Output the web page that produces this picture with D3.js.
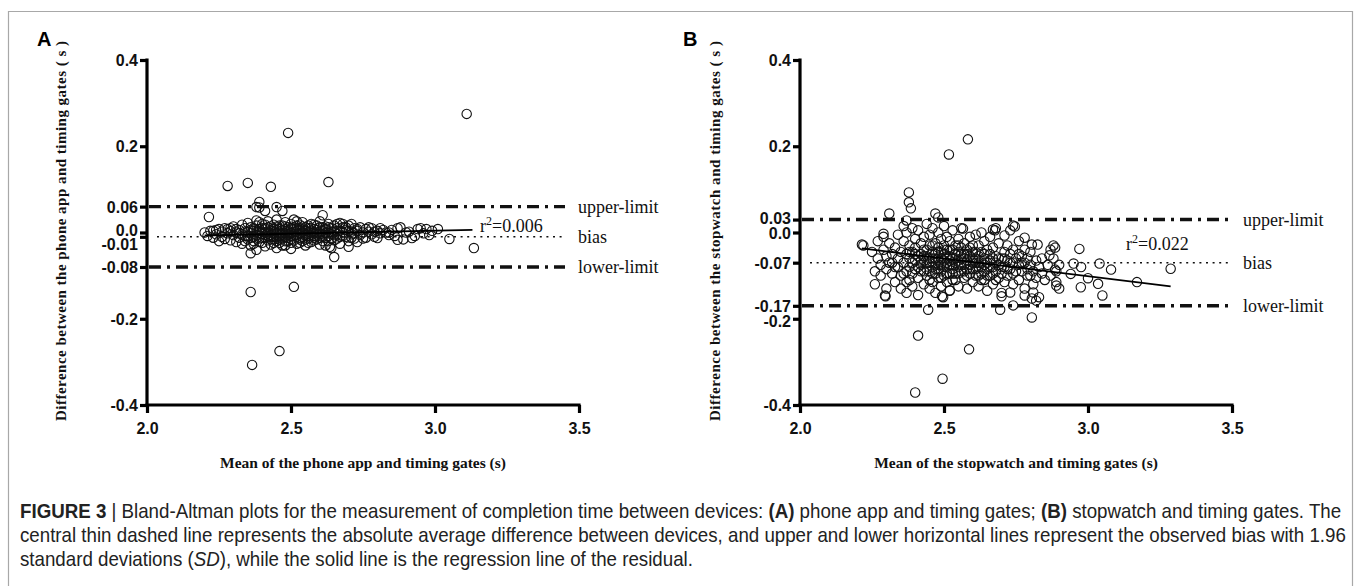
<!DOCTYPE html>
<html>
<head>
<meta charset="utf-8">
<script src="https://cdn.jsdelivr.net/npm/d3@7"></script>
<style>
  body { margin: 0; background: #fff; }
  svg { display: block; }
  .axis .tick text { font-family: 'Liberation Sans', Arial, sans-serif; font-weight: bold; fill: #111; }
  .serif { font-family: 'Liberation Serif', 'Times New Roman', serif; fill: #111; }
</style>
</head>
<body>
<svg id="chart"></svg>
<script>
// ---- data ----
const xTicks = [2.0, 2.5, 3.0, 3.5]
const limitNames = ['upper-limit', 'bias', 'lower-limit']

// A: phone app vs timing gates
const phoneYTicks = [0.4, 0.2, 0.06, 0.0, -0.01, -0.08, -0.2, -0.4]
const phoneLimits = [0.06, -0.01, -0.08]
const phoneFit = [[2.20, -0.007], [3.13, 0.006]]
const phoneR2 = '0.006'
const phonePoints = [
	[2.49,0.231],[3.11,0.275],[2.28,0.108],[2.35,0.115],[2.43,0.106],[2.63,0.117],[2.39,0.071],[2.38,0.059],
	[2.39,0.058],[2.41,0.050],[2.45,0.059],[2.47,0.050],[2.215,0.036],[2.61,0.040],[3.135,-0.036],[3.05,-0.015],
	[2.36,-0.138],[2.51,-0.126],[2.46,-0.275],[2.365,-0.307],[2.36,-0.048],[2.65,-0.057],[2.635,-0.033],[2.70,-0.033],
	[2.87,0.010],[2.84,0.000],[2.80,-0.013],[2.87,-0.017],[2.92,-0.013],[2.94,0.008],[2.97,0.008],[2.98,-0.006],
	[3.01,0.008],[2.90,0.000],
	[2.20,0.000],[2.21,-0.008],[2.22,0.004],[2.23,-0.012],[2.24,-0.004],[2.24,0.006],[2.25,-0.020],[2.26,0.002],
	[2.26,-0.010],[2.27,0.010],[2.27,-0.015],[2.28,-0.002],[2.28,0.008],[2.29,-0.018],[2.29,0.003],[2.30,-0.006],
	[2.30,0.014],[2.31,-0.022],[2.31,0.000],[2.32,0.006],[2.32,-0.012],[2.33,0.018],[2.33,-0.004],[2.33,-0.026],
	[2.34,0.010],[2.34,-0.008],[2.35,0.002],[2.35,-0.016],[2.35,0.022],[2.36,-0.002],[2.36,-0.030],[2.36,0.012],
	[2.37,-0.010],[2.37,0.004],[2.37,-0.020],[2.38,0.016],[2.38,-0.006],[2.38,0.028],[2.38,-0.040],[2.39,0.000],
	[2.39,-0.014],[2.39,0.008],[2.40,-0.024],[2.40,0.020],[2.40,-0.004],[2.41,0.010],[2.41,-0.012],[2.41,-0.032],
	[2.42,0.002],[2.42,0.026],[2.42,-0.018],[2.43,-0.006],[2.43,0.014],[2.43,-0.028],[2.44,0.004],[2.44,-0.010],
	[2.44,0.018],[2.45,-0.020],[2.45,0.000],[2.45,0.030],[2.45,-0.036],[2.46,0.008],[2.46,-0.008],[2.46,-0.024],
	[2.47,0.016],[2.47,-0.002],[2.47,-0.014],[2.48,0.024],[2.48,0.004],[2.48,-0.030],[2.48,-0.010],[2.49,0.012],
	[2.49,-0.004],[2.49,-0.020],[2.50,0.020],[2.50,0.000],[2.50,-0.016],[2.50,-0.038],[2.51,0.008],[2.51,-0.008],
	[2.51,0.030],[2.52,-0.026],[2.52,0.002],[2.52,0.016],[2.53,-0.012],[2.53,0.006],[2.53,-0.002],[2.54,0.014],
	[2.54,-0.020],[2.54,0.024],[2.55,-0.006],[2.55,0.004],[2.55,-0.030],[2.56,0.010],[2.56,-0.014],[2.57,0.000],
	[2.57,0.020],[2.57,-0.022],[2.58,-0.008],[2.58,0.008],[2.59,0.016],[2.59,-0.016],[2.60,0.002],[2.60,-0.028],
	[2.60,0.026],[2.61,-0.004],[2.61,0.012],[2.62,-0.012],[2.62,0.006],[2.63,0.020],[2.63,-0.020],[2.63,0.000],
	[2.64,-0.036],[2.64,0.010],[2.65,-0.006],[2.65,0.016],[2.66,-0.014],[2.66,0.004],[2.67,0.022],[2.67,-0.026],
	[2.68,0.000],[2.68,0.012],[2.69,-0.010],[2.69,0.006],[2.70,-0.020],[2.70,0.016],[2.71,0.002],[2.71,-0.004],
	[2.72,0.010],[2.72,-0.014],[2.73,0.004],[2.73,-0.022],[2.74,0.012],[2.74,-0.006],[2.75,0.000],[2.76,0.008],
	[2.76,-0.012],[2.77,0.002],[2.78,-0.004],[2.78,0.010],[2.79,-0.010],[2.80,0.004],[2.81,-0.002],[2.82,0.006],
	[2.83,0.000],[2.85,0.006],[2.86,-0.008],[2.88,0.012],[2.89,-0.016],[2.91,0.002],[2.93,-0.008],[2.95,0.010],
	[2.96,-0.002],[2.99,0.004],
	[2.36,0.006],[2.37,-0.026],[2.38,0.002],[2.39,-0.022],[2.40,0.010],[2.40,-0.012],[2.41,0.000],[2.42,-0.008],
	[2.42,0.012],[2.43,-0.016],[2.43,0.004],[2.44,-0.024],[2.44,0.008],[2.45,-0.010],[2.45,0.014],[2.46,0.000],
	[2.46,-0.016],[2.47,0.006],[2.47,-0.030],[2.48,-0.002],[2.48,0.014],[2.49,-0.012],[2.49,0.004],[2.50,0.010],
	[2.50,-0.008],[2.51,-0.018],[2.51,0.002],[2.52,0.010],[2.52,-0.010],[2.53,0.018],[2.53,-0.024],[2.54,0.000],
	[2.54,-0.010],[2.55,0.012],[2.55,-0.016],[2.56,0.002],[2.56,-0.024],[2.57,0.010],[2.57,-0.006],[2.58,0.000],
	[2.58,-0.018],[2.59,0.006],[2.59,-0.004],[2.60,0.012],[2.60,-0.012],[2.61,0.004],[2.61,-0.020],[2.62,0.014],
	[2.62,-0.002],[2.64,0.002],[2.64,-0.014],[2.66,0.010],[2.66,-0.004],[2.68,-0.008],[2.68,0.020],[2.70,0.004],
	[2.72,-0.002],
	[2.32,-0.002],[2.34,0.002],[2.35,-0.008],[2.36,-0.012],[2.37,0.010],[2.38,-0.014],[2.39,0.004],[2.40,0.002],
	[2.41,-0.006],[2.41,0.018],[2.42,-0.002],[2.43,-0.010],[2.44,0.000],[2.44,-0.016],[2.45,0.006],[2.46,-0.004],
	[2.46,0.016],[2.47,-0.008],[2.48,0.008],[2.48,-0.020],[2.49,0.000],[2.50,-0.002],[2.50,-0.024],[2.51,0.012],
	[2.52,-0.004],[2.53,0.010],[2.53,-0.016],[2.54,0.006],[2.55,-0.002],[2.56,-0.008],[2.56,0.016],[2.57,0.004],
	[2.58,-0.012],[2.58,0.018],[2.59,0.000],[2.60,-0.004],[2.61,-0.010],[2.62,0.008],[2.63,-0.008],[2.63,0.012],
	[2.64,-0.004],[2.65,0.002],[2.65,-0.018],[2.67,0.004],[2.67,-0.010],[2.69,0.012],[2.71,-0.012],[2.73,0.008],
	[2.75,-0.014],[2.77,0.012],[2.79,0.002],[2.81,0.010],[2.84,-0.006],[2.34,-0.020],[2.29,0.010],[2.25,0.008],
	[2.23,0.004],[2.31,0.008],[2.39,0.024],[2.52,0.026],[2.62,-0.030],[2.71,0.020],[2.66,0.020]
]

// B: stopwatch vs timing gates
const stopYTicks = [0.4, 0.2, 0.03, 0.0, -0.07, -0.17, -0.2, -0.4]
const stopLimits = [0.03, -0.07, -0.17]
const stopFit = [[2.215, -0.037], [3.287, -0.125]]
const stopR2 = '0.022'
const stopPoints = [
	[2.583,0.216],[2.517,0.181],[2.378,0.093],[2.378,0.070],[2.385,0.056],[2.31,0.044],[2.47,0.044],[2.48,0.035],
	[2.37,0.028],[2.29,-0.003],[2.566,0.009],[2.677,0.005],[2.63,0.000],[2.746,0.014],[2.215,-0.028],[2.41,-0.239],
	[2.587,-0.271],[2.495,-0.339],[2.40,-0.371],[2.445,-0.179],[2.295,-0.146],[2.297,-0.148],[2.497,-0.150],[2.695,-0.179],
	[3.287,-0.084],[3.17,-0.115],[3.08,-0.086],[3.04,-0.072],[3.05,-0.146],[3.035,-0.119],[2.975,-0.127],[3.00,-0.106],
	[2.97,-0.038],[2.976,-0.080],[2.95,-0.072],[2.94,-0.096],[2.89,-0.123],[2.886,-0.086],[2.88,-0.030],[2.886,-0.035],
	[2.866,-0.053],[2.805,-0.197],[2.805,-0.153],[2.82,-0.158],[2.78,-0.146],[2.81,-0.139],[2.74,-0.169],[2.73,-0.139],
	[2.70,-0.148],[2.493,-0.148],[2.52,-0.134],[2.805,-0.028],[2.825,-0.028],[2.78,-0.012],[2.74,0.016],[2.67,0.007],
	[2.71,-0.007],
	[2.22,-0.030],[2.25,-0.045],[2.26,-0.090],[2.26,-0.120],[2.27,-0.060],[2.27,-0.020],[2.28,-0.075],[2.28,-0.100],
	[2.29,-0.040],[2.29,-0.010],[2.30,-0.085],[2.30,-0.130],[2.30,-0.055],[2.31,-0.070],[2.31,-0.025],[2.32,-0.095],
	[2.32,-0.050],[2.33,-0.115],[2.33,-0.035],[2.33,-0.080],[2.34,-0.060],[2.34,-0.005],[2.35,-0.100],[2.35,-0.045],
	[2.35,-0.130],
	[2.36,0.015],[2.36,-0.070],[2.36,-0.020],[2.37,-0.090],[2.37,-0.140],[2.37,-0.050],[2.37,0.000],[2.38,-0.030],
	[2.38,-0.080],[2.38,-0.110],[2.38,-0.060],[2.39,0.010],[2.39,-0.045],[2.39,-0.095],[2.39,-0.125],[2.40,-0.015],
	[2.40,-0.065],[2.40,-0.085],[2.40,-0.035],[2.41,-0.105],[2.41,0.005],[2.41,-0.055],[2.41,-0.145],[2.42,-0.075],
	[2.42,-0.025],[2.42,-0.090],[2.42,-0.050],[2.43,-0.010],[2.43,-0.120],[2.43,-0.065],[2.43,-0.040],[2.44,-0.085],
	[2.44,0.020],[2.44,-0.100],[2.44,-0.055],[2.45,-0.030],[2.45,-0.070],[2.45,-0.130],[2.45,-0.005],[2.45,-0.090],
	[2.46,-0.045],[2.46,-0.080],[2.46,-0.060],[2.46,0.010],[2.46,-0.115],[2.47,-0.025],[2.47,-0.070],[2.47,-0.095],
	[2.47,-0.050],[2.47,-0.140],[2.48,-0.035],[2.48,-0.085],[2.48,0.000],[2.48,-0.060],[2.48,-0.105],[2.49,-0.015],
	[2.49,-0.075],[2.49,-0.045],[2.49,-0.125],[2.49,-0.090],[2.50,-0.030],[2.50,-0.065],[2.50,-0.100],[2.50,0.015],
	[2.50,-0.050],[2.51,-0.080],[2.51,-0.010],[2.51,-0.115],[2.51,-0.040],[2.51,-0.070],[2.52,-0.055],[2.52,-0.095],
	[2.52,-0.020],[2.52,-0.135],[2.52,-0.075],[2.53,-0.040],[2.53,-0.085],[2.53,0.005],[2.53,-0.060],[2.53,-0.110],
	[2.54,-0.030],[2.54,-0.070],[2.54,-0.050],[2.54,-0.095],[2.55,-0.015],[2.55,-0.080],[2.55,-0.125],[2.55,-0.045],
	[2.55,-0.065],[2.56,-0.035],[2.56,-0.090],[2.56,0.010],[2.56,-0.060],[2.57,-0.075],[2.57,-0.025],[2.57,-0.105],
	[2.57,-0.050],[2.58,-0.040],[2.58,-0.085],[2.58,-0.130],[2.58,-0.065],[2.59,-0.010],[2.59,-0.055],[2.59,-0.095],
	[2.59,-0.075],[2.60,-0.030],[2.60,-0.115],[2.60,-0.060],[2.60,-0.085],
	[2.61,-0.045],[2.61,-0.070],[2.61,-0.100],[2.61,-0.005],[2.62,-0.080],[2.62,-0.055],[2.62,-0.125],[2.62,-0.030],
	[2.63,-0.065],[2.63,-0.095],[2.63,-0.045],[2.64,-0.075],[2.64,-0.110],[2.64,-0.020],[2.64,-0.060],[2.65,-0.085],
	[2.65,-0.040],[2.65,-0.135],[2.66,-0.065],[2.66,-0.100],[2.66,-0.010],[2.66,-0.050],[2.67,-0.080],[2.67,-0.120],
	[2.67,-0.035],[2.68,-0.070],[2.68,-0.090],[2.68,-0.055],[2.68,0.010],[2.69,-0.105],[2.69,-0.075],[2.69,-0.025],
	[2.70,-0.060],[2.70,-0.095],[2.70,-0.140],[2.71,-0.045],[2.71,-0.080],[2.71,-0.115],[2.72,-0.065],[2.72,-0.030],
	[2.72,-0.100],[2.73,-0.085],[2.73,-0.050],[2.73,0.005],[2.74,-0.070],[2.74,-0.120],[2.74,-0.040],[2.75,-0.090],
	[2.75,-0.060],
	[2.76,-0.075],[2.76,-0.020],[2.76,-0.110],[2.77,-0.055],[2.77,-0.090],[2.78,-0.070],[2.78,-0.130],[2.78,-0.040],
	[2.79,-0.085],[2.79,-0.060],[2.80,-0.100],[2.80,-0.075],[2.80,-0.045],[2.81,-0.120],[2.81,-0.090],[2.82,-0.065],
	[2.82,-0.105],[2.83,-0.080],[2.83,-0.150],[2.84,-0.095],[2.84,-0.060],[2.85,-0.110],[2.86,-0.075],[2.87,-0.040],
	[2.87,-0.100],[2.88,-0.060],[2.89,-0.090],[2.89,-0.115],[2.90,-0.075],[2.90,-0.130],
	[2.40,-0.050],[2.41,-0.080],[2.42,-0.065],[2.43,-0.090],[2.43,-0.055],[2.44,-0.070],[2.44,-0.040],[2.45,-0.060],
	[2.45,-0.110],[2.46,-0.095],[2.46,-0.030],[2.47,-0.085],[2.47,-0.060],[2.48,-0.075],[2.48,-0.045],[2.49,-0.060],
	[2.49,-0.105],[2.50,-0.080],[2.50,-0.040],[2.51,-0.055],[2.51,-0.095],[2.52,-0.065],[2.52,-0.040],[2.53,-0.075],
	[2.53,-0.095],[2.54,-0.060],[2.54,-0.110],[2.55,-0.030],[2.55,-0.095],[2.56,-0.075],[2.56,-0.050],[2.57,-0.090],
	[2.57,-0.060],[2.58,-0.100],[2.58,-0.050],[2.59,-0.035],[2.59,-0.085],[2.60,-0.070],[2.60,-0.045],[2.61,-0.085],
	[2.61,-0.060],[2.62,-0.100],[2.62,-0.070],[2.63,-0.080],[2.63,-0.110],[2.64,-0.050],[2.64,-0.090],[2.65,-0.070],
	[2.65,-0.100],[2.66,-0.080],[2.67,-0.060],[2.67,-0.095],[2.68,-0.110],[2.69,-0.060],[2.70,-0.080],[2.71,-0.060],
	[2.72,-0.085],[2.73,-0.070],[2.74,-0.095],[2.76,-0.050],[2.77,-0.070],[2.79,-0.100],[2.38,-0.045],[2.36,-0.095],
	[2.34,-0.080],[2.32,-0.070],[2.39,-0.070],[2.37,-0.115]
]

const captionLines = [
	[['FIGURE 3', 'b'], [' | ', ''], ['Bland-Altman plots for the measurement of completion time between devices: ', ''], ['(A)', 'b'],
	 [' phone app and timing gates; ', ''], ['(B)', 'b'], [' stopwatch and timing gates. The', '']],
	[['central thin dashed line represents the absolute average difference between devices, and upper and lower horizontal lines represent the observed bias with 1.96', '']],
	[['standard deviations (', ''], ['SD', 'i'], ['), while the solid line is the regression line of the residual.', '']]
]

// ---- drawing ----
const W = 1356, H = 586
const svg = d3.select('#chart').attr('width', W).attr('height', H)

// frame
svg.append('path')
	.attr('d', `M8.5,${H}V11.5H1352.5V${H}`)
	.attr('fill', 'none').attr('stroke', '#a8a8a8').attr('stroke-width', 1.2)

const fmt = d => d.toFixed(Math.abs(d * 10 - Math.round(d * 10)) < 1e-9 ? 1 : 2)

const drawPanel = (p) => {
	let g = svg.append('g')

	let x = d3.scaleLinear().domain([2, 3.5]).range([p.left, p.left + 432])
	let y = d3.scaleLinear().domain([-0.4, 0.4]).range([405, 60])

	// reference lines: upper / bias / lower
	p.limits.forEach((v, i) => {
		g.append('line')
			.attr('x1', x(2) + (i == 1 ? 10 : 2)).attr('x2', p.lineEnd)
			.attr('y1', y(v)).attr('y2', y(v))
			.attr('stroke', '#111')
			.attr('stroke-width', i == 1 ? 1.5 : 3.4)
			.attr('stroke-dasharray', i == 1 ? '2,4.6' : '12,6,3,6')
		g.append('text').classed('serif', true)
			.attr('x', p.labelX).attr('y', y(v))
			.attr('dy', '0.35em')
			.style('font-size', '18px')
			.text(limitNames[i])
	})

	// points
	g.append('g').selectAll('circle')
		.data(p.points).enter()
		.append('circle')
		.attr('cx', d => x(d[0]))
		.attr('cy', d => y(d[1]))
		.attr('r', 4.7)
		.attr('fill', 'none')
		.attr('stroke', '#111')
		.attr('stroke-width', 1.1)

	// regression line
	g.append('path')
		.datum(p.fit)
		.attr('d', d3.line().x(d => x(d[0])).y(d => y(d[1])))
		.attr('stroke', '#000').attr('stroke-width', 1.8).attr('fill', 'none')

	let r2 = g.append('text').classed('serif', true)
		.attr('x', p.r2X).attr('y', p.r2Y)
		.style('font-size', '18px')
	r2.append('tspan').text('r')
	r2.append('tspan').attr('dy', -7).style('font-size', '12px').text('2')
	r2.append('tspan').attr('dy', 7).text('=' + p.r2)

	// axes
	let ya = g.append('g').attr('class', 'axis')
		.attr('transform', `translate(${x(2)},0)`)
		.call(d3.axisLeft(y).tickValues(p.yTicks).tickSize(7).tickSizeOuter(0).tickPadding(2).tickFormat(fmt))
	let xa = g.append('g').attr('class', 'axis')
		.attr('transform', `translate(0,${y(-0.4)})`)
		.call(d3.axisBottom(x).tickValues(xTicks).tickSize(8).tickSizeOuter(0).tickPadding(10).tickFormat(d => d.toFixed(1)))

	g.selectAll('.axis .domain').attr('stroke', '#000').attr('stroke-width', 3.2).attr('stroke-linecap', 'square')
	g.selectAll('.axis .tick line').attr('stroke', '#000').attr('stroke-width', 3.2)
	ya.selectAll('.tick text').style('font-size', '16px')
		.attr('dy', d => (p.nudge[fmt(d)] || 0) + 5.5)
	xa.selectAll('.tick text').style('font-size', '16px')
	ya.select('.domain').attr('d', `M0,${y(0.4)}V${y(-0.4)}`)
	xa.select('.domain').attr('d', `M${x(2)},0H${x(3.5)}`)

	// titles
	g.append('text').classed('serif', true)
		.attr('transform', `translate(${p.yTitleX},231) rotate(-90)`)
		.attr('text-anchor', 'middle')
		.attr('textLength', 380).attr('lengthAdjust', 'spacing')
		.style('font-size', '15px').style('font-weight', 'bold')
		.text(p.yTitle)
	g.append('text').classed('serif', true)
		.attr('x', x(2.75)).attr('y', 468)
		.attr('text-anchor', 'middle')
		.style('font-size', '15.5px').style('font-weight', 'bold')
		.text(p.xTitle)

	g.append('text')
		.attr('x', p.letterX).attr('y', 46)
		.style('font-family', "'Liberation Sans', Arial, sans-serif")
		.style('font-weight', 'bold').style('font-size', '20px')
		.text(p.letter)
}

drawPanel({
	left: 147, letter: 'A', letterX: 37, yTitleX: 66,
	lineEnd: 565, labelX: 578, r2X: 480, r2Y: 232,
	nudge: { '0.0': -3, '-0.01': 7 },
	points: phonePoints, limits: phoneLimits, fit: phoneFit, r2: phoneR2, yTicks: phoneYTicks,
	yTitle: 'Difference between the phone app and timing gates ( s )',
	xTitle: 'Mean of the phone app and timing gates (s)'
})

drawPanel({
	left: 800, letter: 'B', letterX: 683, yTitleX: 720,
	lineEnd: 1229, labelX: 1243, r2X: 1126, r2Y: 250,
	nudge: { '0.03': -2, '-0.2': 2 },
	points: stopPoints, limits: stopLimits, fit: stopFit, r2: stopR2, yTicks: stopYTicks,
	yTitle: 'Difference between the stopwatch and timing gates ( s )',
	xTitle: 'Mean of the stopwatch and timing gates (s)'
})

// caption, squeezed to the condensed look of the original
let cap = svg.append('g')
	.style('font-family', "'Liberation Sans', Arial, sans-serif")
	.style('font-size', '20px')
	.attr('fill', '#222')
captionLines.forEach((line, i) => {
	let t = cap.append('text').attr('x', 0).attr('y', 518 + i * 24)
	line.forEach(s => {
		t.append('tspan')
			.style('font-weight', s[1] == 'b' ? 'bold' : null)
			.style('font-style', s[1] == 'i' ? 'italic' : null)
			.text(s[0])
	})
})
let w1 = cap.select('text').node().getComputedTextLength()
cap.attr('transform', `translate(20,0) scale(${1322 / w1},1)`)
</script>
</body>
</html>
